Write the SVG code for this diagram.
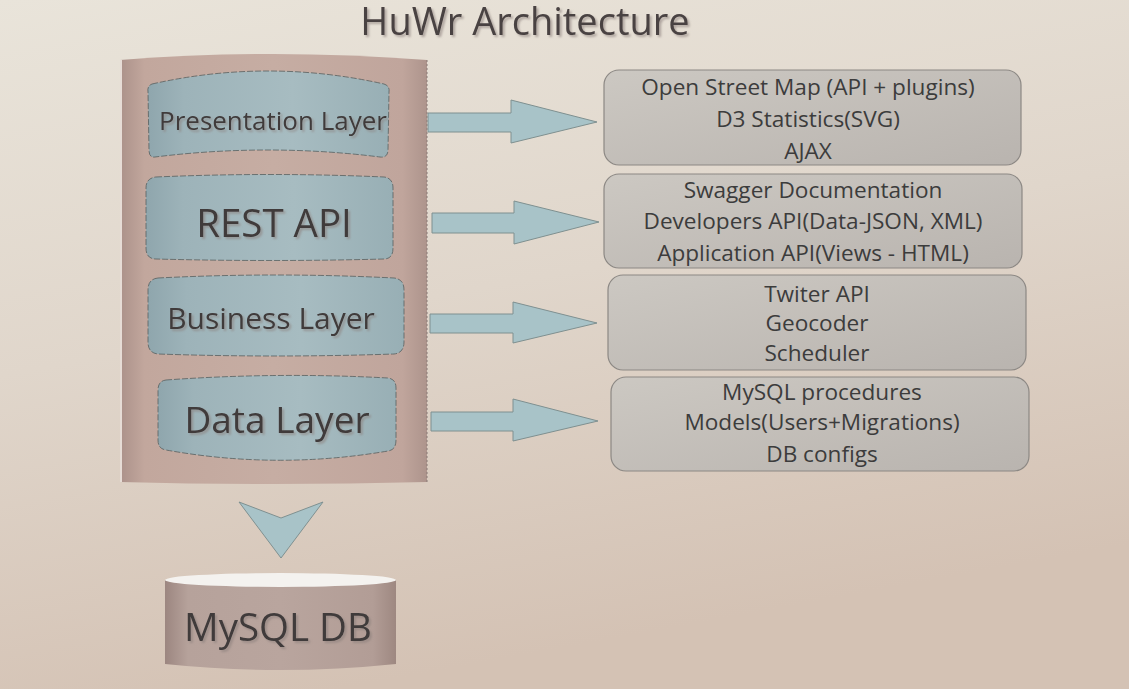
<svg xmlns="http://www.w3.org/2000/svg" width="1129" height="689" viewBox="0 0 1129 689">
<defs>
<linearGradient id="bg" x1="0" y1="0" x2="0.3" y2="1">
<stop offset="0" stop-color="#e9e4da"/>
<stop offset="0.5" stop-color="#e0d6cb"/>
<stop offset="1" stop-color="#d4c2b4"/>
</linearGradient>
<linearGradient id="cyl" x1="0" y1="0" x2="1" y2="0">
<stop offset="0" stop-color="#ab918a"/>
<stop offset="0.08" stop-color="#c2a79d"/>
<stop offset="0.5" stop-color="#c6ada3"/>
<stop offset="0.92" stop-color="#c0a59c"/>
<stop offset="1" stop-color="#ad948c"/>
</linearGradient>
<linearGradient id="db" x1="0" y1="0" x2="1" y2="0">
<stop offset="0" stop-color="#9c8680"/>
<stop offset="0.1" stop-color="#b6a29b"/>
<stop offset="0.5" stop-color="#b9a59e"/>
<stop offset="0.9" stop-color="#b29d96"/>
<stop offset="1" stop-color="#9e8881"/>
</linearGradient>
<linearGradient id="layer" x1="0" y1="0" x2="1" y2="0">
<stop offset="0" stop-color="#8fa6ad"/>
<stop offset="0.15" stop-color="#9db3b9"/>
<stop offset="0.6" stop-color="#a7bcc1"/>
<stop offset="1" stop-color="#98afb5"/>
</linearGradient>
<linearGradient id="box" x1="0" y1="0" x2="1" y2="1">
<stop offset="0" stop-color="#ccc8c2"/>
<stop offset="1" stop-color="#b9b4af"/>
</linearGradient>
<filter id="ts2" x="-10%" y="-30%" width="120%" height="170%">
<feDropShadow dx="2" dy="2" stdDeviation="0.8" flood-color="#8a7f7a" flood-opacity="0.6"/>
</filter>
</defs>
<style>
text{font-family:"Open Sans","Noto Sans","Liberation Sans",sans-serif;text-anchor:middle}
.title{font-size:38px;fill:#4a4343}
.lt{fill:#3f3b3b}
.bt{font-size:22.6px;fill:#3c3c3c}
.layer{fill:url(#layer);stroke:#55605f;stroke-width:0.8;stroke-dasharray:6 2}
.box{fill:url(#box);stroke:#8c8884;stroke-width:1.2}
.arr{fill:#a8c3c8;stroke:#7f9090;stroke-width:1}
</style>
<rect width="1129" height="689" fill="url(#bg)"/>
<text class="title" x="525" y="35" filter="url(#ts2)">HuWr Architecture</text>
<g id="app-cylinder">
<path d="M120,60 Q273,48 427,60 L427,482 Q273,486 120,482 Z" fill="url(#cyl)"/>
<line x1="121" y1="60" x2="121" y2="482" stroke="#e6dcd6" stroke-width="2"/>
<line x1="427" y1="60" x2="427" y2="482" stroke="#8a7a76" stroke-width="1" stroke-dasharray="2 2"/>
</g>
<g id="presentation-layer">
<path class="layer" d="M152,84 Q268,58 384,84 Q390,86 389,92 L388,150 Q388,158 380,157 Q268,143 155,157 Q149,158 149,150 L148,92 Q147,86 152,84 Z"/>
<text class="lt" x="273" y="130" font-size="26" filter="url(#ts2)">Presentation Layer</text>
</g>
<g id="rest-api">
<path class="layer" d="M156,177 Q270,172 384,177 Q393,178 393,188 L393,248 Q393,259 384,259 Q270,262 156,259 Q146,259 146,248 L146,188 Q146,178 156,177 Z"/>
<text class="lt" x="274" y="237" font-size="38.5" filter="url(#ts2)">REST API</text>
</g>
<g id="business-layer">
<path class="layer" d="M158,278 Q276,272 394,278 Q404,279 404,290 L404,342 Q404,353 394,354 Q276,358 158,354 Q148,353 148,342 L148,290 Q148,279 158,278 Z"/>
<text class="lt" x="271" y="329" font-size="30" filter="url(#ts2)">Business Layer</text>
</g>
<g id="data-layer">
<path class="layer" d="M166,380 Q277,372 388,378 Q396,379 396,388 L396,440 Q396,450 388,451 Q277,470 166,450 Q158,449 158,440 L158,390 Q158,381 166,380 Z"/>
<text class="lt" x="277" y="433" font-size="37" filter="url(#ts2)">Data Layer</text>
</g>
<g id="connectors">
<path class="arr" d="M428,113 L511,113 L511,100 L597,122 L511,143 L511,132 L428,132 Z"/>
<path class="arr" d="M432,213 L514,213 L514,201 L599,222 L514,244 L514,233 L432,233 Z"/>
<path class="arr" d="M430,314 L513,314 L513,302 L597,323 L513,343 L513,333 L430,333 Z"/>
<path class="arr" d="M431,412 L513,412 L513,399 L598,421 L513,441 L513,431 L431,431 Z"/>
<path class="arr" d="M239,502 L281,518 L323,502 L281,558 Z"/>
</g>
<g id="box-presentation">
<rect class="box" x="604" y="70" width="417" height="95" rx="15"/>
<text class="bt" x="808" y="95">Open Street Map (API + plugins)</text>
<text class="bt" x="808" y="127">D3 Statistics(SVG)</text>
<text class="bt" x="808" y="159">AJAX</text>
</g>
<g id="box-rest">
<rect class="box" x="604" y="174" width="418" height="94" rx="15"/>
<text class="bt" x="813" y="198">Swagger Documentation</text>
<text class="bt" x="813" y="229">Developers API(Data-JSON, XML)</text>
<text class="bt" x="813" y="261">Application API(Views - HTML)</text>
</g>
<g id="box-business">
<rect class="box" x="608" y="275" width="418" height="95" rx="15"/>
<text class="bt" x="817" y="302">Twiter API</text>
<text class="bt" x="817" y="331">Geocoder</text>
<text class="bt" x="817" y="361">Scheduler</text>
</g>
<g id="box-data">
<rect class="box" x="611" y="377" width="418" height="94" rx="15"/>
<text class="bt" x="822" y="400">MySQL procedures</text>
<text class="bt" x="822" y="430">Models(Users+Migrations)</text>
<text class="bt" x="822" y="462">DB configs</text>
</g>
<g id="mysql-db">
<path d="M165,580 L165,664 Q280,676 396,664 L396,580 Z" fill="url(#db)"/>
<ellipse cx="280.5" cy="580" rx="115.5" ry="7" fill="#f4f2ef"/>
<text class="lt" x="278" y="641" font-size="38.5" filter="url(#ts2)">MySQL DB</text>
</g>
</svg>
